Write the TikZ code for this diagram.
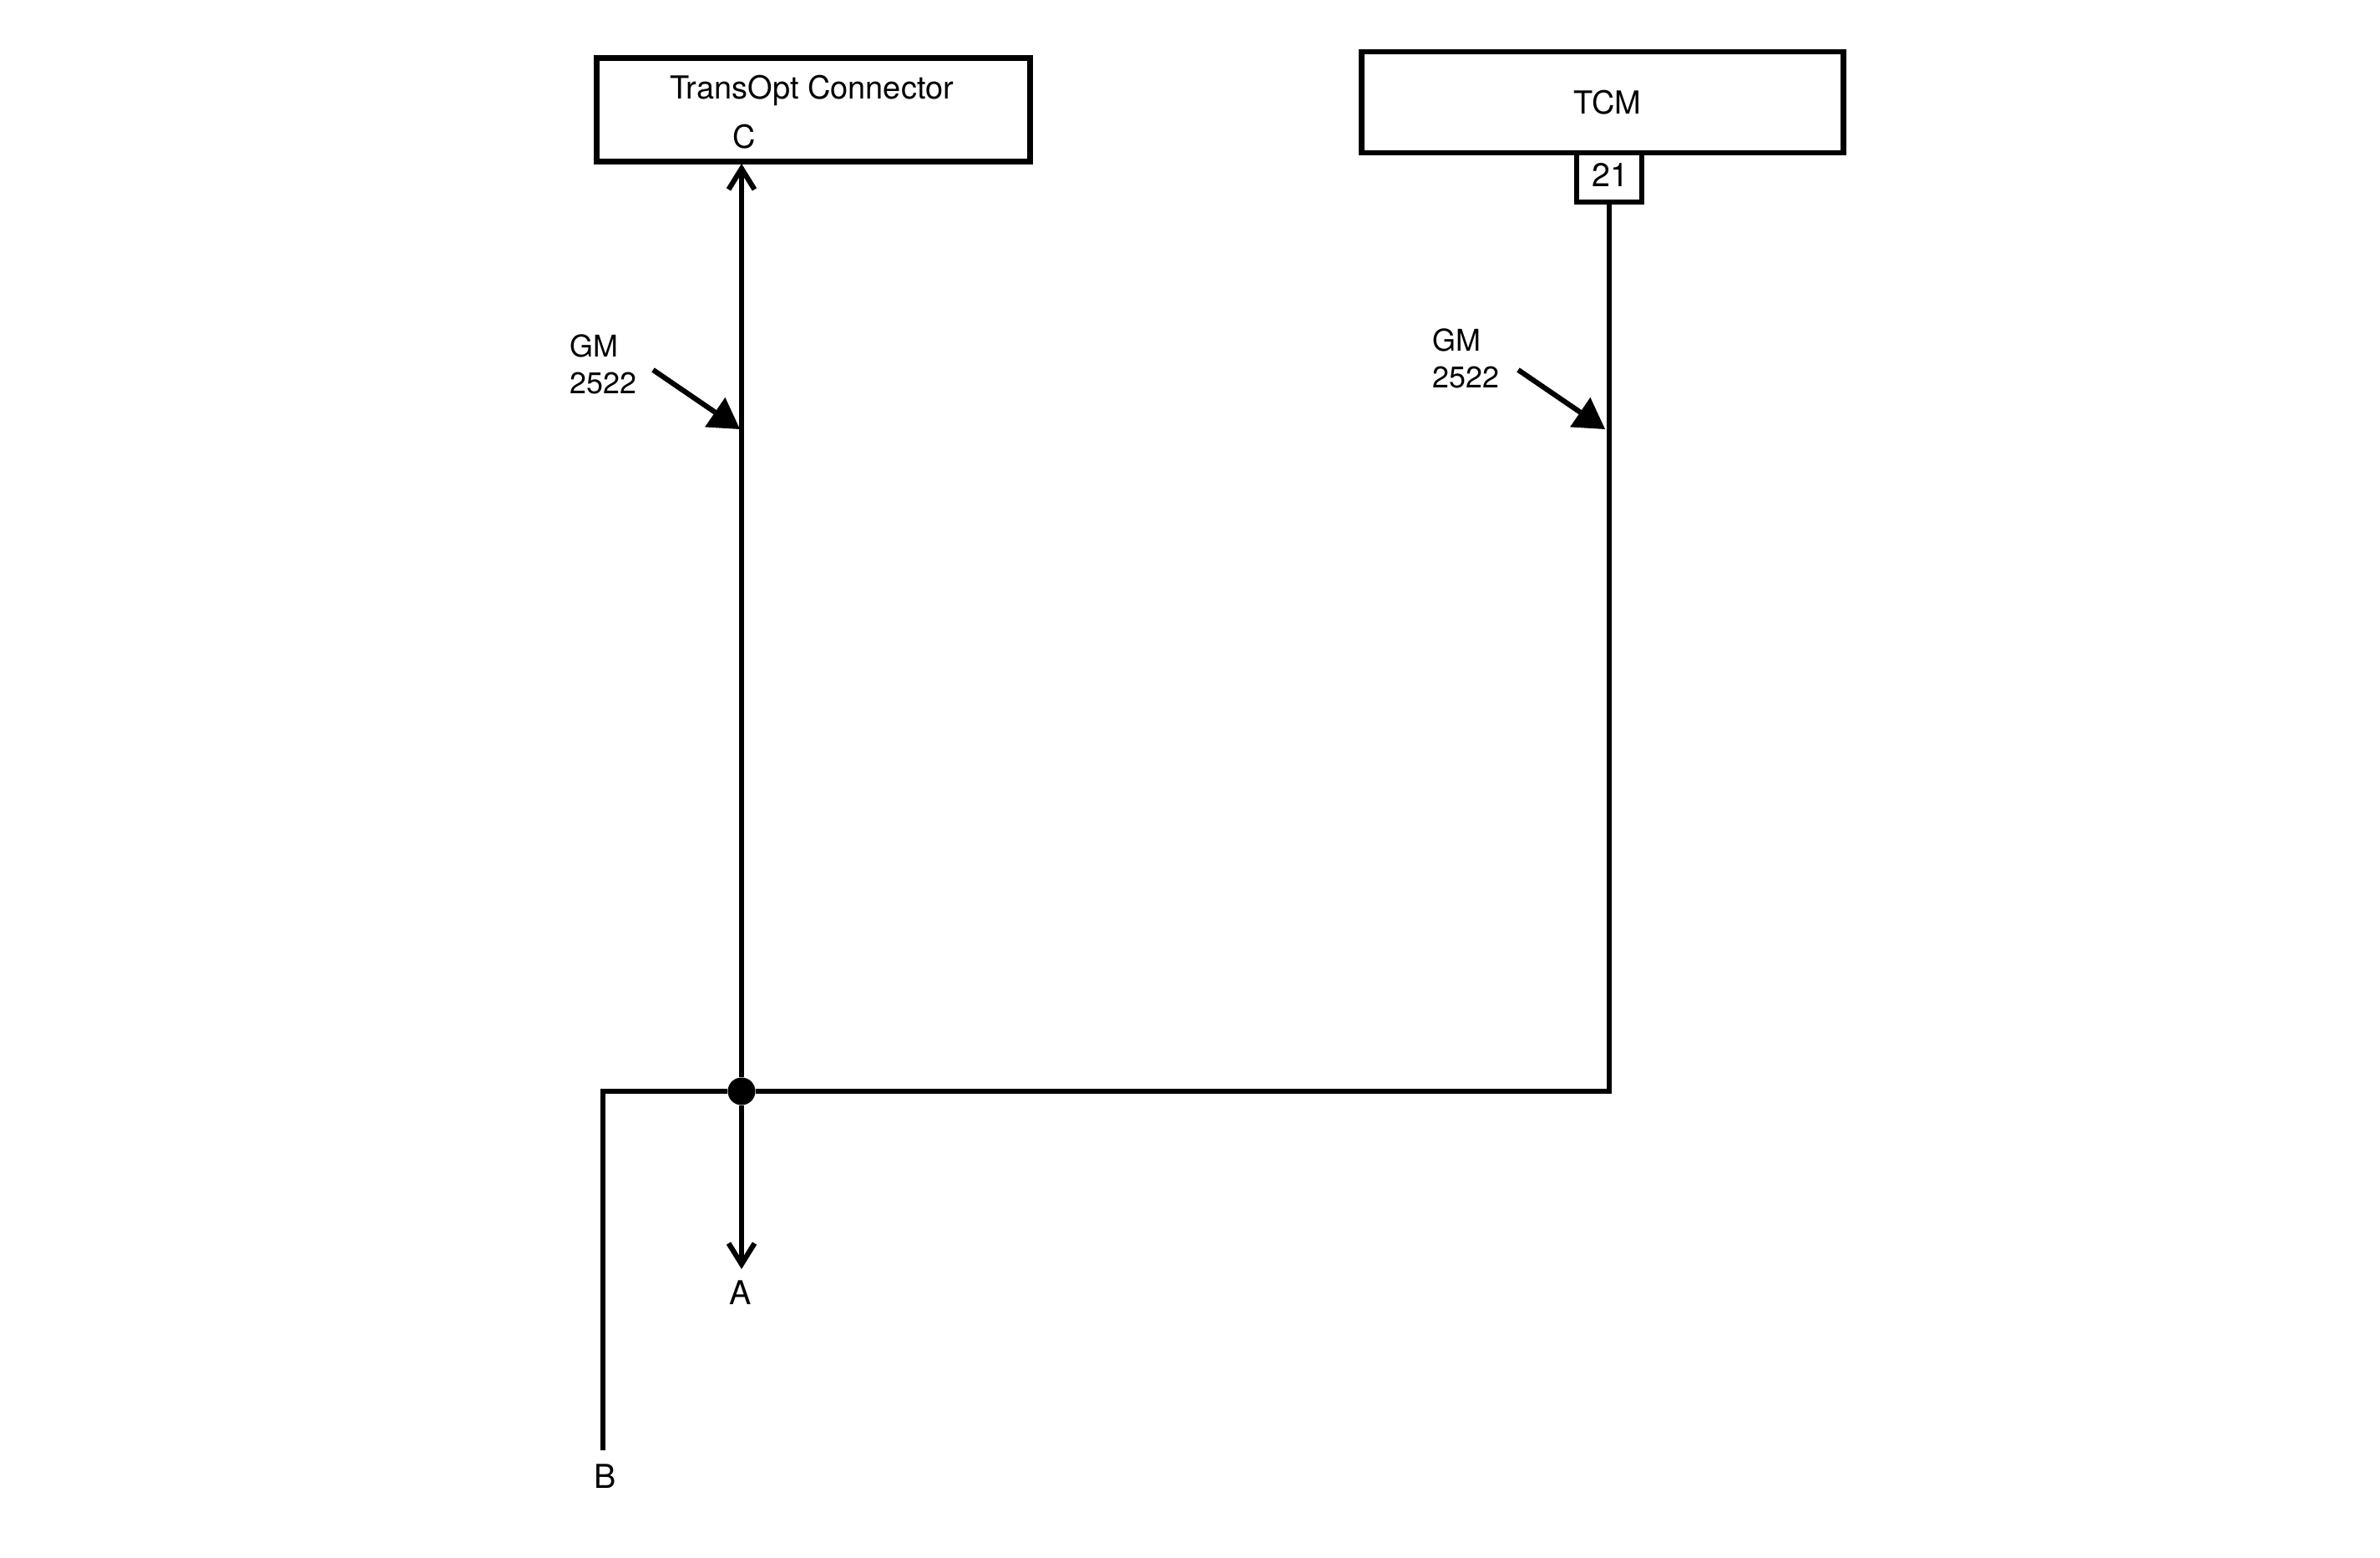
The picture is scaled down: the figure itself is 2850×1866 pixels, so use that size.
\documentclass[tikz,border=0pt]{standalone}
\usepackage{fontspec}
\setmainfont{TeX Gyre Heros}
\usetikzlibrary{arrows.meta}

\tikzset{
	boxnode/.style={draw, line width=\boxWidth, inner sep=0pt},
	pinnode/.style={draw, fill=white, line width=\wireWidth, inner sep=0pt},
	wire/.style={line width=\wireWidth},
	labelnode/.style={inner sep=0pt, font=\fontsize{10.8}{12.5}\selectfont},
	biglabelnode/.style={inner sep=0pt, font=\fontsize{11.2}{12.5}\selectfont},
	taglabel/.style={inner sep=0pt, font=\fontsize{10.2}{12.5}\selectfont},
	tagarrow/.style={line width=\wireWidth, -{Triangle[length=3.6mm, width=4.3mm, line width=0pt]}},
	openarrow/.style={-{Straight Barb[length=2.5mm, width=3.1mm]}},
}

\def\boxWidth{0.68mm}
\def\wireWidth{0.62mm}

\begin{document}
\begin{tikzpicture}[x=0.01cm, y=-0.01cm]

	\useasboundingbox (0,0) rectangle (2850,1866);

	\def\wireX{888}
	\def\tcmX{1927}
	\def\junctionY{1307}

	% Boxes
	\node[boxnode, minimum width=5.18cm, minimum height=1.24cm] (transopt) at (974,131.5) {};
	\node[boxnode, minimum width=5.76cm, minimum height=1.21cm] (tcm) at (1919,122.5) {};
	\node[pinnode, minimum width=0.78cm, minimum height=0.59cm] (pin21) at (\tcmX,212.5) {};

	% Box labels
	\node[labelnode, anchor=base] (transoptlabel) at (972,118) {TransOpt Connector};
	\node[labelnode, anchor=base] (clabel) at (891,177) {C};
	\node[labelnode, anchor=base] (tcmlabel) at (1925,136) {TCM};
	\node[biglabelnode, anchor=base] (pinlabel) at (\tcmX+1,223) {21};

	% Wires
	\node[circle, fill=black, minimum size=0.33cm, inner sep=0pt] (junction) at (\wireX,\junctionY) {};
	\coordinate (pinC) at (\wireX,196);
	\coordinate (endA) at (\wireX,1520);
	\coordinate (endB) at (722,1737);

	\draw[wire, openarrow] (junction) -- (pinC);
	\draw[wire, openarrow] (junction) -- (endA);
	\draw[wire] (pin21.south) |- (junction);
	\draw[wire] (junction) -| (endB);

	\node[biglabelnode, anchor=base] (alabel) at (887,1562) {A};
	\node[biglabelnode, anchor=base] (blabel) at (725,1782) {B};

	% GM labels
	\foreach \tag/\lx/\ly/\sx/\tx in {one/682/471/782/886, two/1715/464/1818/1922} {
		\node[taglabel, anchor=base west, align=left] (gm\tag) at (\lx,\ly) {GM\\2522};
		\coordinate (start\tag) at (\sx,443);
		\coordinate (tip\tag) at (\tx,514);
		\draw[tagarrow] (start\tag) -- (tip\tag);
	}

\end{tikzpicture}
\end{document}
